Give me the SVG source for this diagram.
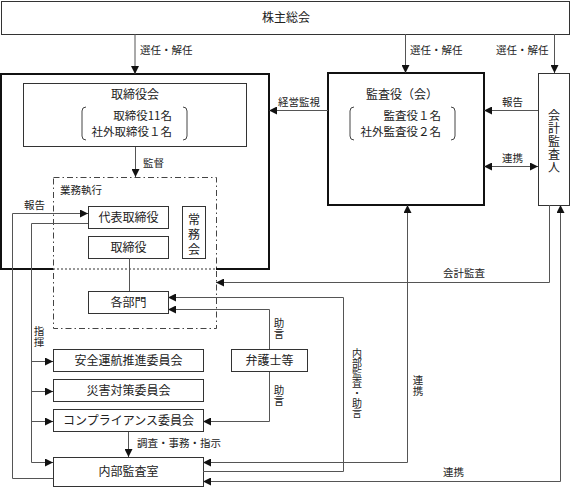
<svg xmlns="http://www.w3.org/2000/svg" width="572" height="488" viewBox="0 0 572 488">
<style>
text{font-family:"Noto Sans CJK JP","Noto Sans",sans-serif;fill:#222}
.t{font-size:12px}
.m{font-size:11.5px}
.l{font-size:10.5px}
.v{writing-mode:vertical-rl;text-orientation:upright}
.box{fill:#fff;stroke:#333;stroke-width:1}
.thick{fill:none;stroke:#111;stroke-width:2}
.c{fill:none;stroke:#555;stroke-width:1}
.br{fill:none;stroke:#444;stroke-width:1}
</style>
<defs>
<marker id="a" viewBox="0 0 10 10" refX="10" refY="5" markerWidth="8" markerHeight="8" markerUnits="userSpaceOnUse" orient="auto-start-reverse">
<path d="M0,0 L10,5 L0,10 z" fill="#111"/>
</marker>
</defs>
<rect width="572" height="488" fill="#fff"/>

<g id="shareholders">
<rect class="box" x="1.5" y="1.5" width="568" height="33"/>
<text class="t" x="286" y="22" text-anchor="middle">株主総会</text>
</g>

<g id="board-outer">
<path class="thick" d="M53 269 H1 V74 H269 V269 H216"/>
<path d="M53 269 H216" fill="none" stroke="#333" stroke-width="1.2" stroke-dasharray="2,2"/>
</g>

<g id="board">
<rect class="box" x="23.5" y="83.5" width="223" height="63"/>
<text class="t" x="135" y="99" text-anchor="middle">取締役会</text>
<path class="br" d="M86 107 Q82 107 82 111 V136 Q82 140 86 140"/>
<path class="br" d="M183 107 Q187 107 187 111 V136 Q187 140 183 140"/>
<text class="m" x="172" y="120" text-anchor="end">取締役11名</text>
<text class="m" x="172" y="136" text-anchor="end">社外取締役１名</text>
</g>

<g id="exec">
<rect x="53.5" y="177.5" width="163" height="151" fill="none" stroke="#444" stroke-width="1" stroke-dasharray="6,3,1.5,3"/>
<text class="l" x="60" y="194">業務執行</text>
</g>

<g id="president">
<rect class="box" x="88.5" y="206.5" width="80" height="22"/>
<text class="t" x="128.5" y="222" text-anchor="middle">代表取締役</text>
</g>
<g id="directors">
<rect class="box" x="88.5" y="236.5" width="80" height="22"/>
<text class="t" x="128.5" y="252" text-anchor="middle">取締役</text>
</g>
<g id="jomukai">
<rect class="box" x="182.5" y="206.5" width="23" height="52"/>
<text class="t v" x="194" y="213" style="letter-spacing:3px">常務会</text>
</g>

<g id="auditors">
<rect class="thick" x="328" y="73" width="156" height="132"/>
<text class="t" x="402" y="99" text-anchor="middle">監査役（会）</text>
<path class="br" d="M354 107 Q350 107 350 111 V136 Q350 140 354 140"/>
<path class="br" d="M451 107 Q455 107 455 111 V136 Q455 140 451 140"/>
<text class="m" x="441" y="120" text-anchor="end">監査役１名</text>
<text class="m" x="441" y="136" text-anchor="end">社外監査役２名</text>
</g>

<g id="accounting-auditor">
<rect class="box" x="538.5" y="73.5" width="31" height="132"/>
<text class="t v" x="554" y="109" style="letter-spacing:1px">会計監査人</text>
</g>

<g id="departments">
<rect class="box" x="88.5" y="291.5" width="80" height="22"/>
<text class="t" x="128.5" y="307" text-anchor="middle">各部門</text>
</g>

<g id="lawyers">
<rect class="box" x="231.5" y="349.5" width="76" height="22"/>
<text class="t" x="269.5" y="365" text-anchor="middle">弁護士等</text>
</g>

<g id="safety">
<rect class="box" x="53.5" y="349.5" width="150" height="22"/>
<text class="t" x="128.5" y="365" text-anchor="middle">安全運航推進委員会</text>
</g>
<g id="disaster">
<rect class="box" x="53.5" y="379.5" width="150" height="22"/>
<text class="t" x="128.5" y="395" text-anchor="middle">災害対策委員会</text>
</g>
<g id="compliance">
<rect class="box" x="53.5" y="409.5" width="150" height="22"/>
<text class="t" x="128.5" y="425" text-anchor="middle">コンプライアンス委員会</text>
</g>
<g id="internal-audit">
<rect class="box" x="53.5" y="457.5" width="150" height="29"/>
<text class="t" x="128.5" y="476" text-anchor="middle">内部監査室</text>
</g>

<g id="connectors">
<path class="c" d="M135 34 V74" marker-end="url(#a)"/>
<path class="c" d="M405.5 34 V73" marker-end="url(#a)"/>
<path class="c" d="M554.5 34 V73" marker-end="url(#a)"/>
<path class="c" d="M328 110.5 H269" marker-end="url(#a)"/>
<path class="c" d="M538 110.5 H484" marker-end="url(#a)"/>
<path class="c" d="M484 166.5 H538" marker-start="url(#a)" marker-end="url(#a)"/>
<path class="c" d="M135.5 147 V177" marker-end="url(#a)"/>
<path class="c" d="M53 478.5 H12.5 V213.5 H88" marker-end="url(#a)"/>
<path class="c" d="M88 223.5 H31.5 V462.5 H53" marker-end="url(#a)"/>
<path class="c" d="M31.5 361.5 H53" marker-end="url(#a)"/>
<path class="c" d="M31.5 391.5 H53" marker-end="url(#a)"/>
<path class="c" d="M31.5 421.5 H53" marker-end="url(#a)"/>
<path class="c" d="M129.5 258 V291"/>
<path class="c" d="M549.5 205 V282.5 H216" marker-end="url(#a)"/>
<path class="c" d="M203 462.5 H407.5 V205" marker-start="url(#a)" marker-end="url(#a)"/>
<path class="c" d="M203 471.5 H343.5 V297.5 H168" marker-end="url(#a)"/>
<path class="c" d="M203 481.5 H560.5 V205" marker-start="url(#a)" marker-end="url(#a)"/>
<path class="c" d="M269.5 349 V309.5 H168" marker-end="url(#a)"/>
<path class="c" d="M269.5 372 V421.5 H203" marker-end="url(#a)"/>
<path class="c" d="M128.5 432 V457" marker-end="url(#a)"/>
</g>

<g id="labels">
<text class="l" x="140" y="54">選任・解任</text>
<text class="l" x="410" y="54">選任・解任</text>
<text class="l" x="496" y="54">選任・解任</text>
<text class="l" x="278" y="106">経営監視</text>
<text class="l" x="502" y="106">報告</text>
<text class="l" x="502" y="162">連携</text>
<text class="l" x="143" y="167">監督</text>
<text class="l" x="24" y="209">報告</text>
<text class="l v" x="39" y="326">指揮</text>
<text class="l" x="443" y="277">会計監査</text>
<text class="l v" x="279" y="318">助言</text>
<text class="l v" x="279" y="385">助言</text>
<text class="v" x="357" y="348" style="font-size:10px">内部監査・助言</text>
<text class="l v" x="418" y="375">連携</text>
<text class="l" x="443" y="476">連携</text>
<text class="l" x="137" y="447">調査・事務・指示</text>
</g>
</svg>
